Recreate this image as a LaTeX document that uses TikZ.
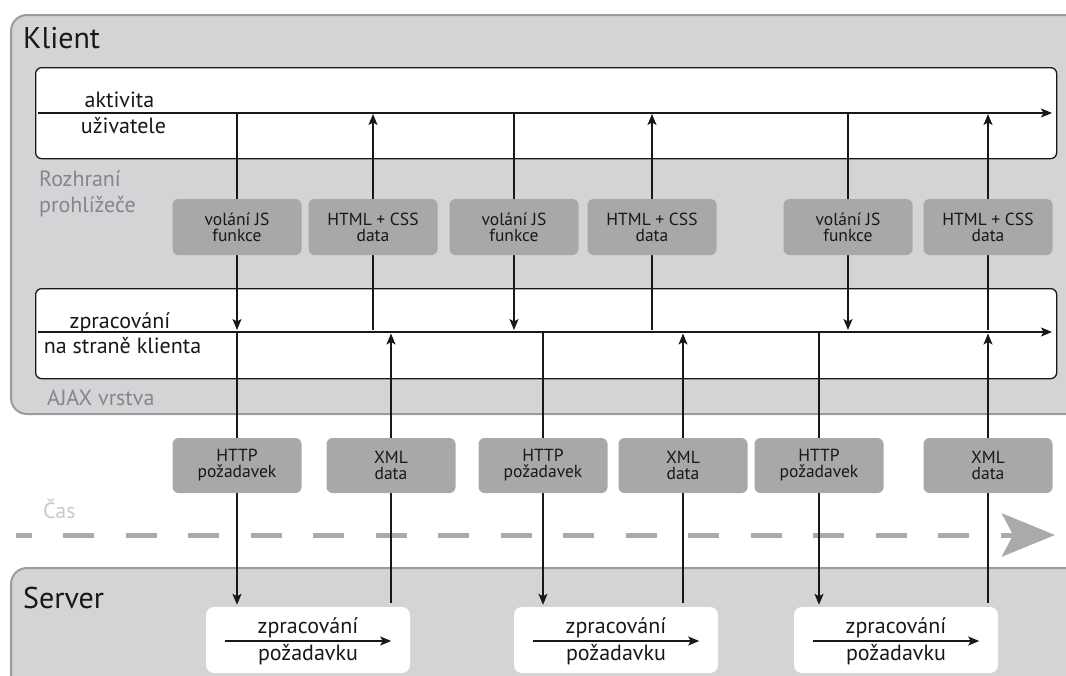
\documentclass[tikz,border=0pt]{standalone}
\usepackage{fontspec}
\setmainfont{PT Sans}
\usetikzlibrary{arrows.meta}

\definecolor{panelfill}{HTML}{D3D4D6}
\definecolor{panelline}{HTML}{9A9B9D}
\definecolor{tagfill}{HTML}{A7A8AA}
\definecolor{layertext}{HTML}{85868A}
\definecolor{timegray}{HTML}{A9AAAC}
\definecolor{timetext}{HTML}{C8C9CB}
\definecolor{ink}{HTML}{1A1718}

\pgfdeclarelayer{back}
\pgfdeclarelayer{wires}
\pgfsetlayers{back,wires,main}

\tikzset{
  panelbox/.style={fill=panelfill, draw=panelline, line width=2pt, rounded corners=16pt},
  lanebox/.style={fill=white, draw=ink, line width=1.3pt, rounded corners=6pt},
  tagbox/.style={fill=tagfill, rounded corners=6pt, minimum width=129pt, minimum height=56pt,
                 align=center, inner sep=0pt, text=ink, font=\fontsize{17.5}{16}\selectfont},
  taskbox/.style={fill=white, rounded corners=8pt, minimum width=204pt, minimum height=66pt, inner sep=0pt},
  flow/.style={draw=ink, line width=1.2pt},
  tip/.style={-{Stealth[length=11pt,width=9pt,inset=2.5pt]}},
  lanetext/.style={anchor=base, text=ink, font=\fontsize{22}{22}\selectfont, inner sep=0pt},
  layerlabel/.style={anchor=base west, text=layertext, font=\fontsize{22}{22}\selectfont, inner sep=0pt},
  title/.style={anchor=base west, text=ink, font=\fontsize{30}{30}\selectfont, inner sep=0pt},
}

\begin{document}
\begin{tikzpicture}[x=1pt,y=-1pt]
\useasboundingbox (0,0) rectangle (1066,675);
\clip (0,0) rectangle (1066,675);

% ---------- tags between the layers ----------
\node[tagbox] (js1)  at (237,227) {volání JS\\funkce};
\node[tagbox] (css1) at (373,227) {HTML + CSS\\data};
\node[tagbox] (js2)  at (514,227) {volání JS\\funkce};
\node[tagbox] (css2) at (652,227) {HTML + CSS\\data};
\node[tagbox] (js3)  at (848,227) {volání JS\\funkce};
\node[tagbox] (css3) at (988,227) {HTML + CSS\\data};

\node[tagbox, minimum height=55pt] (http1) at (237,465.5) {HTTP\\požadavek};
\node[tagbox, minimum height=55pt] (xml1)  at (391,465.5) {XML\\data};
\node[tagbox, minimum height=55pt] (http2) at (543,465.5) {HTTP\\požadavek};
\node[tagbox, minimum height=55pt] (xml2)  at (683,465.5) {XML\\data};
\node[tagbox, minimum height=55pt] (http3) at (819,465.5) {HTTP\\požadavek};
\node[tagbox, minimum height=55pt] (xml3)  at (988,465.5) {XML\\data};

% ---------- panels, lanes and the time axis ----------
\begin{pgfonlayer}{back}
  \node[panelbox, anchor=north west, minimum width=1100pt, minimum height=399pt] (klient) at (10,14) {};
  \node[panelbox, anchor=north west, minimum width=1100pt, minimum height=200pt] (server) at (10,567) {};

  \node[lanebox, anchor=north west, minimum width=1021pt, minimum height=91pt] (ui)   at (35,67) {};
  \node[lanebox, anchor=north west, minimum width=1021pt, minimum height=90pt] (ajax) at (35,288) {};

  \coordinate (actL)  at (38,113);
  \coordinate (actR)  at (1052,113);
  \coordinate (ajaxL) at (38,332);
  \coordinate (ajaxR) at (1052,332);

  \coordinate (timeL) at (16,535);
  \coordinate (timeR) at (1055,535);
  \draw[timegray, line width=5pt, dash pattern=on 31pt off 31.5pt, dash phase=15.5pt,
        -{Stealth[length=53pt,width=43pt,inset=11pt]}] (timeL) -- (timeR);

  \node[taskbox] (srv1) at (308,640) {};
  \node[taskbox] (srv2) at (616,640) {};
  \node[taskbox] (srv3) at (896,640) {};
\end{pgfonlayer}

% ---------- labels ----------
\node[title] (tKlient) at (23,48) {Klient};
\node[title] (tServer) at (23,608) {Server};
\node[layerlabel] (tRoz1) at (39,186) {Rozhraní};
\node[layerlabel] (tRoz2) at (39,212) {prohlížeče};
\node[layerlabel] (tAjax) at (47,405) {AJAX vrstva};
\node[anchor=base west, text=timetext, font=\fontsize{22}{22}\selectfont, inner sep=0pt] (tCas) at (43,518) {Čas};

\node[lanetext] (tAkt1) at (119.5,107) {aktivita};
\node[lanetext] (tAkt2) at (123.5,133) {uživatele};
\node[lanetext] (tZpr1) at (120,328) {zpracování};
\node[lanetext] (tZpr2) at (122.5,353) {na straně klienta};

\foreach \s in {srv1,srv2,srv3}{
  \node[lanetext] (\s-a) at ([yshift=7pt]\s.center) {zpracování};
  \node[lanetext] (\s-b) at ([yshift=-20pt]\s.center) {požadavku};
}

% ---------- connectors ----------
\begin{pgfonlayer}{wires}
  \draw[flow, line width=1.3pt, tip] (actL) -- (actR);
  \draw[flow, line width=1.3pt, tip] (ajaxL) -- (ajaxR);

  \foreach \s in {srv1,srv2,srv3}
    \draw[flow, line width=1.3pt, tip] ([xshift=19pt,yshift=-1pt]\s.west) -- ([xshift=-19pt,yshift=-1pt]\s.east);

  \foreach \j in {js1,js2,js3}
    \draw[flow, tip, shorten >=2pt] (\j |- actL) -- (\j |- ajaxL);
  \foreach \c in {css1,css2,css3}
    \draw[flow, tip, shorten <=2.5pt, shorten >=1pt] (\c |- ajaxL) -- (\c |- actL);

  \draw[flow, tip, shorten >=2pt] (http1 |- ajaxL) -- (http1 |- srv1.north);
  \draw[flow, tip, shorten >=2pt] (http2 |- ajaxL) -- (http2 |- srv2.north);
  \draw[flow, tip, shorten >=2pt] (http3 |- ajaxL) -- (http3 |- srv3.north);

  \draw[flow, tip, shorten <=4pt, shorten >=1.5pt] (xml1 |- srv1.north) -- (xml1 |- ajaxL);
  \draw[flow, tip, shorten <=4pt, shorten >=1.5pt] (xml2 |- srv2.north) -- (xml2 |- ajaxL);
  \draw[flow, tip, shorten <=4pt, shorten >=1.5pt] (xml3 |- srv3.north) -- (xml3 |- ajaxL);
\end{pgfonlayer}
\end{tikzpicture}
\end{document}
